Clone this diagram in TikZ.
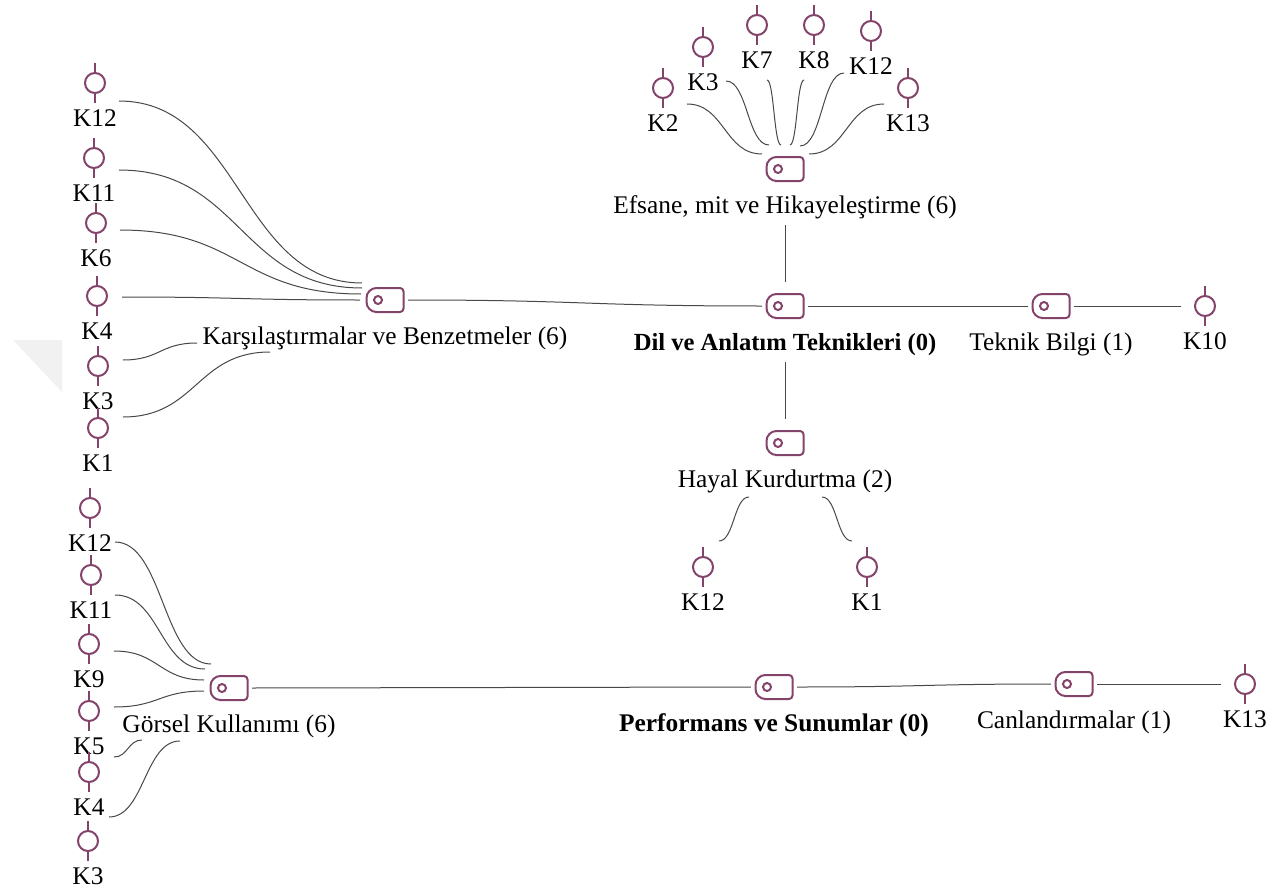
\documentclass[tikz,border=0pt]{standalone}
\usepackage{fontspec}
\setmainfont{Liberation Serif}
\usetikzlibrary{calc}

\definecolor{iconplum}{HTML}{84436A}
\definecolor{linkgray}{HTML}{484848}
\definecolor{markgray}{HTML}{F1F1F1}

\tikzset{
    iconline/.style={draw=iconplum, line width=2pt},
    casebox/.style={rectangle, minimum width=48pt, minimum height=40pt, inner sep=0pt},
    codebox/.style={rectangle, minimum width=46pt, minimum height=48pt, inner sep=0pt},
    itemlabel/.style={font=\fontsize{25.4}{28}\selectfont, text height=16.5pt, text depth=0pt, inner sep=0pt, outer ysep=12pt},
    sigmoid/.style={to path={let \p1=($(\tikztotarget)-(\tikztostart)$) in
        .. controls ($(\tikztostart)+(0.5*\x1,0)$) and ($(\tikztotarget)-(0.5*\x1,0)$) .. (\tikztotarget)}},
    linkline/.style={draw=linkgray, line width=1pt},
    fanline/.style={linkline, sigmoid}
}

\newcommand{\casenode}[3]{
    \node[casebox] at (#2) (#1) {};
    \draw[iconline] (#1.center) circle (10);
    \draw[iconline] ($(#1.center)+(0,-20)$) -- ($(#1.center)+(0,-10)$);
    \draw[iconline] ($(#1.center)+(0,10)$) -- ($(#1.center)+(0,20)$);
    \node[itemlabel] at ($(#1.center)+(0,35)$) (#1l) {#3};
}
\newcommand{\codenode}[3]{
    \node[codebox] at (#2) (#1) {};
    \draw[iconline, shift={(#1.center)}] [rounded corners=10] (0,-12) -- (-18.5,-12) -- (-18.5,12) -- (0,12)
        [rounded corners=3.5] -- (18.5,12) -- (18.5,-12) -- cycle;
    \draw[iconline, shift={(#1.center)}] (-7,0) circle (4);
    \node[itemlabel] at ($(#1.center)+(0,36)$) (#1l) {#3};
}
\newcommand{\fanlink}[3]{
    \coordinate (#1a) at (#2);
    \coordinate (#1b) at (#3);
    \draw[fanline] (#1a) to (#1b);
}

\begin{document}
\begin{tikzpicture}[x=1pt, y=-1pt]
        \useasboundingbox (0,0) rectangle (1282,888);
        \fill[markgray] (13,340) -- (62,340) -- (62,392) -- cycle;

        \codenode{dil}{785,306}{\fontsize{24.6}{28}\selectfont\bfseries Dil ve Anlatım Teknikleri (0)}
        \codenode{efsane}{785,169}{Efsane, mit ve Hikayeleştirme (6)}
        \codenode{hayal}{785,443}{Hayal Kurdurtma (2)}
        \codenode{teknik}{1051,306}{Teknik Bilgi (1)}
        \codenode{karsi}{385,300}{Karşılaştırmalar ve Benzetmeler (6)}
        \codenode{perf}{774,687}{\bfseries Performans ve Sunumlar (0)}
        \codenode{gorsel}{229,688}{Görsel Kullanımı (6)}
        \codenode{canli}{1074,684}{Canlandırmalar (1)}

        \casenode{ka}{95,83}{K12}
        \casenode{kb}{94,158}{K11}
        \casenode{kc}{96,223}{K6}
        \casenode{kd}{97,296}{K4}
        \casenode{ke}{98,366}{K3}
        \casenode{kf}{98,428}{K1}

        \casenode{ga}{90,508}{K12}
        \casenode{gb}{91,575}{K11}
        \casenode{gc}{89,644}{K9}
        \casenode{gd}{89,711}{K5}
        \casenode{ge}{89,772}{K4}
        \casenode{gf}{88,841}{K3}

        \casenode{ea}{663,88}{K2}
        \casenode{eb}{703,47}{K3}
        \casenode{ec}{757,25}{K7}
        \casenode{ed}{814,25}{K8}
        \casenode{ee}{871,31}{K12}
        \casenode{ef}{908,88}{K13}

        \casenode{ha}{703,567}{K12}
        \casenode{hb}{867,567}{K1}
        \casenode{tk}{1205,306}{K10}
        \casenode{ck}{1245,684}{K13}

        \draw[linkline] (efsanel.south) -- (dil.north);
        \draw[linkline] (dill.south) -- (hayal.north);
        \draw[linkline] (dil.east) -- (teknik.west);
        \draw[linkline] (teknik.east) -- (tk.west);
        \draw[fanline] (karsi.east) to (dil.west);
        \draw[linkline] (gorsel.east) -- (perf.west);
        \draw[fanline] (perf.east) to (canli.west);
        \draw[linkline] (canli.east) -- (ck.west);

        \fanlink{fka}{119,101}{362,283}
        \fanlink{fkb}{119,170}{362,288}
        \fanlink{fkc}{120,230}{361,294}
        \fanlink{fkd}{122,297}{360,300}
        \fanlink{fke}{123,360}{197,343}
        \fanlink{fkf}{123,417}{270,352}

        \fanlink{fga}{115,542}{211,664}
        \fanlink{fgb}{115,595}{205,669}
        \fanlink{fgc}{114,651}{204,680}
        \fanlink{fgd}{114,707}{204,691}
        \fanlink{fge}{114,757}{142,740}
        \fanlink{fgf}{109,817}{180,741}

        \fanlink{fea}{687,104}{762,154}
        \fanlink{feb}{726,81}{769,145}
        \fanlink{fec}{767,80}{781,145}
        \fanlink{fed}{804,80}{790,145}
        \fanlink{fee}{844,73}{800,146}
        \fanlink{fef}{884,104}{809,154}

        \fanlink{fha}{719,541}{749,497}
        \fanlink{fhb}{852,541}{822,497}
    \end{tikzpicture}
\end{document}
